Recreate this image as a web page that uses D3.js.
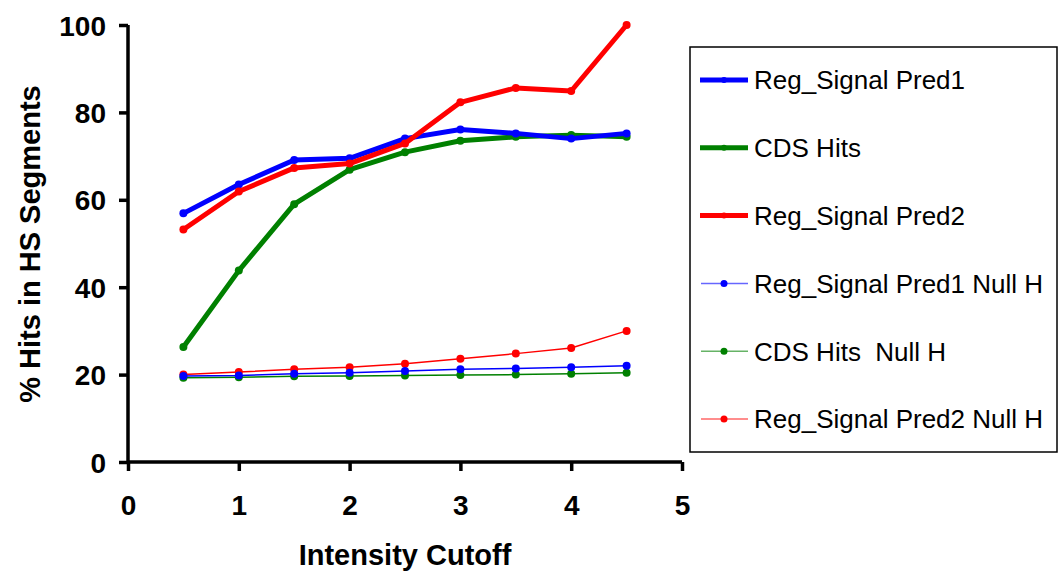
<!DOCTYPE html>
<html>
<head>
<meta charset="utf-8">
<script src="https://cdn.jsdelivr.net/npm/d3@7"></script>
<style>
  body { margin: 0; background: #fff; }
  text { font-family: "Liberation Sans", Arial, sans-serif; }
</style>
</head>
<body>
<script>
// cutoff values on the x axis
const cutoffs = [0.5, 1.0, 1.5, 2.0, 2.5, 3.0, 3.5, 4.0, 4.5];

// series values
const pred1 = [56.9, 63.5, 69.1, 69.5, 74.0, 76.1, 75.2, 74.0, 75.2];
const cdsHits = [26.3, 43.8, 59.0, 66.9, 70.9, 73.5, 74.4, 74.8, 74.4];
const pred2 = [53.2, 61.9, 67.3, 68.3, 72.9, 82.3, 85.6, 84.9, 100];
const pred1Null = [19.7, 19.8, 20.2, 20.4, 20.8, 21.2, 21.4, 21.7, 22.0];
const cdsNull = [19.3, 19.4, 19.6, 19.7, 19.8, 19.9, 20.0, 20.2, 20.4];
const pred2Null = [20.0, 20.6, 21.2, 21.7, 22.5, 23.6, 24.8, 26.1, 30.0];

const xTicks = [0, 1, 2, 3, 4, 5];
const yTicks = [0, 20, 40, 60, 80, 100];

const seriesNames = ["Reg_Signal Pred1", "CDS Hits", "Reg_Signal Pred2",
  "Reg_Signal Pred1 Null H", "CDS Hits  Null H", "Reg_Signal Pred2 Null H"];
const seriesValues = [pred1, cdsHits, pred2, pred1Null, cdsNull, pred2Null];
const seriesColors = ["#0000ff", "#008000", "#ff0000", "#0000ff", "#008000", "#ff0000"];
const seriesBold = [true, true, true, false, false, false];

const width = 1062, height = 577;
let svg = d3.select("body").append("svg")
  .attr("width", width).attr("height", height);

let x = d3.scaleLinear().domain([0, 5]).range([128, 682]);
let y = d3.scaleLinear().domain([0, 100]).range([462, 25]);

// axes
let xAxis = d3.axisBottom(x).tickValues(xTicks).tickSize(9).tickPadding(24).tickFormat(d3.format("d"));
let yAxis = d3.axisLeft(y).tickValues(yTicks).tickSize(9).tickPadding(13).tickFormat(d3.format("d"));

let gx = svg.append("g").attr("transform", "translate(0,462)").call(xAxis);
let gy = svg.append("g").attr("transform", "translate(128,0)").call(yAxis);

for (let g of [gx, gy]) {
  g.select(".domain").attr("stroke", "#000").attr("stroke-width", 3.5);
  g.selectAll(".tick line").attr("stroke", "#000").attr("stroke-width", 3.5);
  g.selectAll(".tick text")
    .attr("fill", "#000")
    .style("font-size", "28px")
    .style("font-weight", "bold")
    .style("font-family", "'Liberation Sans', Arial, sans-serif");
}
gx.select(".domain").attr("d", "M128,0H682");
gy.select(".domain").attr("d", "M0,462V25");
gy.selectAll(".tick text").attr("dy", "0.36em");

// axis titles
svg.append("text")
  .attr("x", 405).attr("y", 565)
  .attr("text-anchor", "middle")
  .style("font-size", "29px").style("font-weight", "bold")
  .text("Intensity Cutoff");

svg.append("text")
  .attr("transform", "translate(40,244) rotate(-90)")
  .attr("text-anchor", "middle")
  .style("font-size", "29px").style("font-weight", "bold")
  .text("% Hits in HS Segments");

// lines, drawn thin ones first so bold ones sit on top
let line = d3.line()
  .x(function(d, i) { return x(cutoffs[i]); })
  .y(function(d) { return y(d); });

let order = [5, 4, 3, 1, 0, 2];
for (let k of order) {
  let g = svg.append("g");
  g.append("path")
    .attr("d", line(seriesValues[k]))
    .attr("fill", "none")
    .attr("stroke", seriesColors[k])
    .attr("stroke-width", seriesBold[k] ? 5 : 1.5)
    .attr("stroke-linejoin", "round");
  g.selectAll("circle")
    .data(seriesValues[k])
    .enter().append("circle")
    .attr("cx", function(d, i) { return x(cutoffs[i]); })
    .attr("cy", function(d) { return y(d); })
    .attr("r", 4)
    .attr("fill", seriesColors[k]);
}

// legend
let legend = svg.append("g");
legend.append("rect")
  .attr("x", 690).attr("y", 47)
  .attr("width", 367).attr("height", 405)
  .attr("fill", "none").attr("stroke", "#000").attr("stroke-width", 1.5);

let legendY = d3.scaleLinear().domain([0, 5]).range([80, 419]);
let items = legend.selectAll("g.item")
  .data(seriesNames)
  .enter().append("g")
  .attr("class", "item")
  .attr("transform", function(d, i) { return "translate(0," + legendY(i) + ")"; });

items.append("line")
  .attr("x1", function(d, i) { return seriesBold[i] ? 700 : 701; })
  .attr("x2", 748)
  .attr("stroke", function(d, i) { return seriesColors[i]; })
  .attr("stroke-opacity", function(d, i) { return seriesBold[i] ? 1 : 0.6; })
  .attr("stroke-width", function(d, i) { return seriesBold[i] ? 5 : 1.5; });

items.append("circle")
  .attr("cx", 724)
  .attr("r", function(d, i) { return seriesBold[i] ? 3 : 3.5; })
  .attr("fill", function(d, i) { return seriesColors[i]; });

items.append("text")
  .attr("x", 754).attr("dy", "0.36em")
  .style("font-size", "26px")
  .style("white-space", "pre")
  .text(function(d) { return d; });
</script>
</body>
</html>
